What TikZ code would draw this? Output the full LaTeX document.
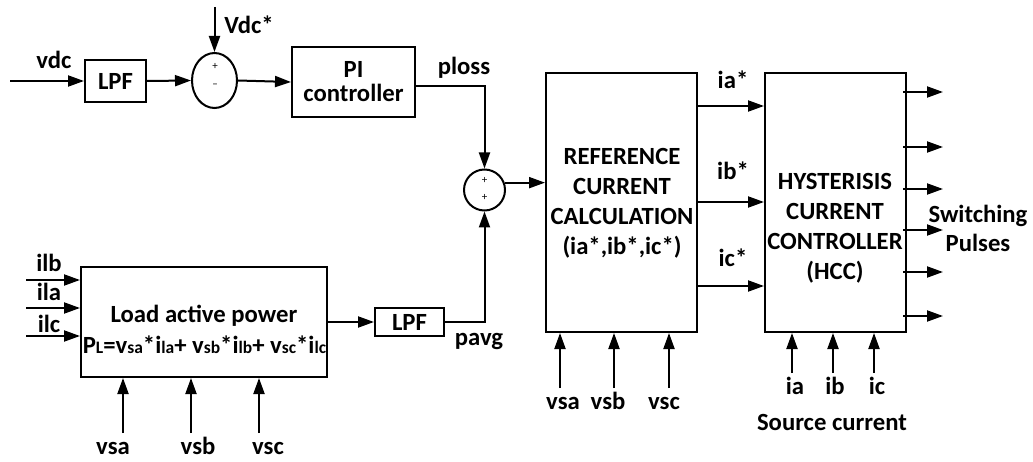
\documentclass[tikz,border=0pt]{standalone}
\usepackage{fontspec}
\setmainfont{Carlito}
\usetikzlibrary{shapes.geometric,arrows.meta,calc}
\newcommand{\smx}[1]{{\fontsize{17.5}{17.5}\selectfont #1}}
\begin{document}
\begin{tikzpicture}[x=1pt,y=-1pt,
  line width=2pt,
  >={Triangle[length=16pt,width=11pt]},
  every node/.style={font=\fontsize{24.7}{26}\selectfont\bfseries, inner sep=0pt},
  lab/.style={text height=19pt, text depth=5pt},
  blk/.style={draw, line width=2pt, rectangle},
  sgn/.style={font=\fontsize{11}{11}\selectfont},
  multi/.style={align=center, font=\fontsize{24.7}{30}\selectfont\bfseries},
]
\useasboundingbox (0,0) rectangle (1033,462);

% top row
\node[blk, minimum width=61pt, minimum height=42pt] (lpf1) at (115.5,81) {LPF};
\node[draw, ellipse, minimum width=45pt, minimum height=55pt] (sum1) at (214.5,80.5) {};
\node[sgn] (p1) at (215,66) {+};
\node[sgn] (m1) at (215,86) {--};
\node[blk, minimum width=123pt, minimum height=70pt, align=center, font=\fontsize{24.7}{24}\selectfont\bfseries] (pi) at (353.5,82) {PI\\controller};

\coordinate (vin) at (10,81);
\coordinate (vref) at (214.5,7);
\node[lab] (lvdc) at (54,62) {vdc};
\node[lab] (lvref) at (249,27) {Vdc*};
\draw[->] (vin) -- (lpf1.west);
\draw[->] (lpf1.east) -- (sum1.west);
\draw[->] (vref) -- (sum1.north);
\draw[->] (sum1.east) -- (pi.west);

% summing junction 2
\node[draw, circle, minimum size=41pt] (sum2) at (484.5,190) {};
\node[sgn] (p2) at (484.5,180) {+};
\node[sgn] (p3) at (484.5,197) {+};
\draw[->] ([yshift=-4pt]pi.east) -| (sum2.north);
\node[lab] (lploss) at (464,68) {ploss};

% load active power
\node[blk, minimum width=246pt, minimum height=110pt] (load) at (204,322) {};
\node[lab] (loadt) at (204,315) {Load active power};
\node[lab] (loadf) at (204.5,346) {P\smx{L}=v\smx{sa}*i\smx{la}+ v\smx{sb}*i\smx{lb}+ v\smx{sc}*i\smx{lc}};
\node[blk, minimum width=69pt, minimum height=28pt] (lpf2) at (409.5,322) {LPF};
\draw[->] (load.east) -- (lpf2.west);
\draw[->] (lpf2.east) -| (sum2.south);
\node[lab] (lpavg) at (479,338) {pavg};

\foreach \y/\t/\ty in {280/ilb/265, 308/ila/293, 336/ilc/325} {
  \coordinate (in\t) at (26,\y);
  \draw[->] (in\t) -- (in\t -| load.west);
  \node[lab] (l\t) at (49,\ty) {\t};
}
\foreach \x/\t/\lx in {123/vsa/113, 191/vsb/198, 259/vsc/268} {
  \coordinate (b\t) at (\x,433);
  \draw[->] (b\t) -- (b\t |- load.south);
  \node[lab] (lb\t) at (\lx,447) {\t};
}

% reference current calculation
\node[blk, minimum width=151pt, minimum height=259pt] (ref) at (621.5,202.5) {};
\node[multi] (reft) at (622,203) {REFERENCE\\CURRENT\\CALCULATION\\(ia*,ib*,ic*)};
\draw[->] (sum2.20) -- (sum2.20 -| ref.west);
\foreach \x/\t/\lx in {560/vsa/563, 614/vsb/608, 669/vsc/664} {
  \coordinate (r\t) at (\x,388);
  \draw[->] (r\t) -- (r\t |- ref.south);
  \node[lab] (lr\t) at (\lx,402) {\t};
}

% hysteresis current controller
\node[blk, minimum width=141pt, minimum height=259pt] (hcc) at (835.5,202.5) {};
\node[multi] (hcct) at (835,228) {HYSTERISIS\\CURRENT\\CONTROLLER\\(HCC)};
\foreach \y/\t/\ly in {106/ia*/82, 202/ib*/173, 286/ic*/260} {
  \draw[->] (ref.east |- 0,\y) -- (hcc.west |- 0,\y);
  \node[lab] at (733,\ly) {\t};
}
\coordinate (ho) at ([xshift=-4pt]hcc.east);
\foreach \y in {92,147,189,230,272,316} {
  \draw[->] (ho |- 0,\y) -- ++(40,0);
}
\node[multi, font=\fontsize{24.7}{29}\selectfont\bfseries] (sw) at (978,228) {Switching\\Pulses};
\foreach \x/\t/\lx in {792/ia/795, 833/ib/835, 874/ic/877} {
  \coordinate (h\t) at (\x,373);
  \draw[->] (h\t) -- (h\t |- hcc.south);
  \node[lab] (lh\t) at (\lx,387) {\t};
}
\node[lab] (src) at (832,423) {Source current};
\end{tikzpicture}
\end{document}
